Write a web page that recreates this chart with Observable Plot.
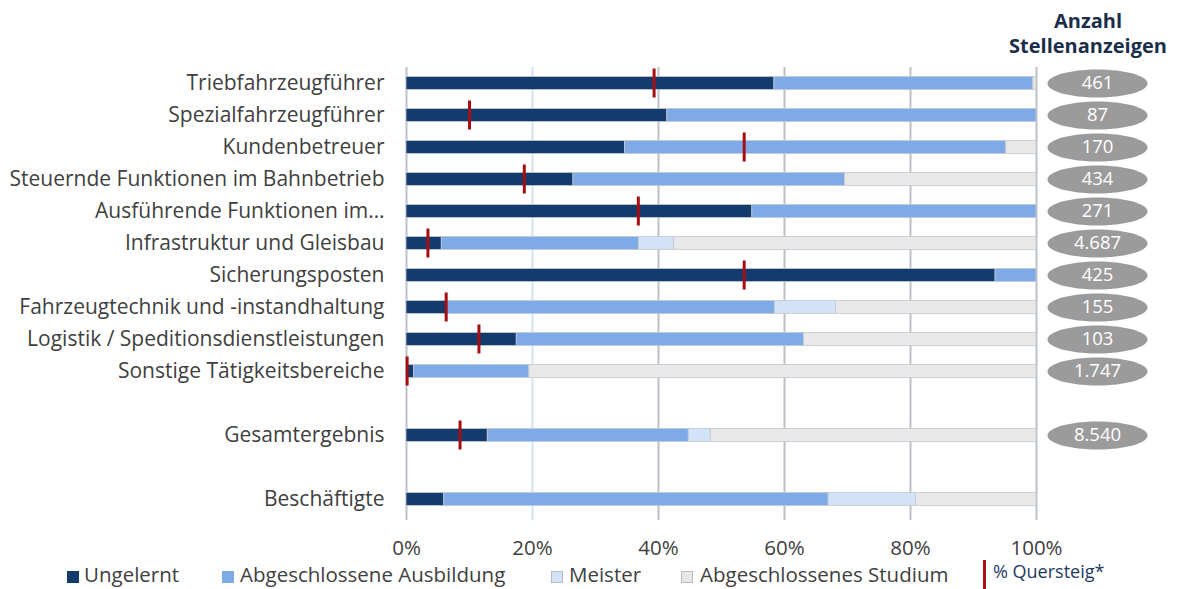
<!DOCTYPE html>
<html><head><meta charset="utf-8">
<script src="https://cdn.jsdelivr.net/npm/d3@7"></script>
<script src="https://cdn.jsdelivr.net/npm/@observablehq/plot@0.6"></script>
<style>
body{margin:0;background:#fff;font-family:"Open Sans",sans-serif;}
#wrap{position:relative;width:1178px;height:589px;overflow:hidden;}
#head{position:absolute;left:1003px;width:170px;top:8px;text-align:center;font-weight:bold;font-size:20px;line-height:25px;color:#1a2e4a;}
.lg{position:absolute;top:560px;font-size:20.5px;color:#404040;white-space:nowrap;line-height:28px;}
.sq{position:absolute;top:571px;width:12px;height:12px;box-sizing:border-box;}
#qline{position:absolute;left:983px;top:560px;width:3px;height:29px;background:#a50f12;}
#qtext{position:absolute;left:993px;top:559px;font-size:18px;color:#1f3a5f;white-space:nowrap;}
</style></head><body>
<div id="wrap"></div>
<script>
const categories = ["Triebfahrzeugführer","Spezialfahrzeugführer","Kundenbetreuer","Steuernde Funktionen im Bahnbetrieb","Ausführende Funktionen im…","Infrastruktur und Gleisbau","Sicherungsposten","Fahrzeugtechnik und -instandhaltung","Logistik / Speditionsdienstleistungen","Sonstige Tätigkeitsbereiche","_gap1","Gesamtergebnis","_gap2","Beschäftigte"];
const ungelernt  = [58.4, 41.4, 34.7, 26.5, 54.9,  5.6, 93.5,  6.3, 17.5,  1.2, null, 12.9, null,  6.0];
const ausbildung = [41.1, 58.6, 60.5, 43.1, 45.1, 31.3,  6.5, 52.2, 45.6, 18.3, null, 31.9, null, 61.0];
const meister    = [ 0.0,  0.0,  0.0,  0.0,  0.0,  5.6,  0.0,  9.7,  0.0,  0.0, null,  3.5, null, 13.9];
const studium    = [ 0.5,  0.0,  4.8, 30.4,  0.0, 57.5,  0.0, 31.8, 36.9, 80.5, null, 51.7, null, 19.1];
const quersteig  = [39.3, 10.0, 53.6, 18.7, 36.8,  3.4, 53.6,  6.3, 11.5,  0.1, null,  8.5, null, null];
const anzahl     = ["461","87","170","434","271","4.687","425","155","103","1.747", null, "8.540", null, null];
const levels = ["Ungelernt","Abgeschlossene Ausbildung","Meister","Abgeschlossenes Studium"];
const levelColors = ["#143b6e","#7eabe8","#d3e3f7","#e8e8e8"];
const xTicks = [0, 0.2, 0.4, 0.6, 0.8, 1];

const series = [ungelernt, ausbildung, meister, studium];
const barData = [];
categories.forEach((c, i) => series.forEach((s, j) => {
  if (s[i] != null && s[i] > 0) barData.push({cat: c, level: levels[j], value: s[i] / 100});
}));
const qData = categories.map((c, i) => ({cat: c, q: quersteig[i] == null ? null : quersteig[i] / 100})).filter(d => d.q != null);
const nData = categories.map((c, i) => ({cat: c, n: anzahl[i]})).filter(d => d.n != null);

const ellipse = {draw(ctx) {
  const rx = 50, ry = 14, k = 0.5523;
  ctx.moveTo(rx, 0);
  ctx.bezierCurveTo(rx, ry * k, rx * k, ry, 0, ry);
  ctx.bezierCurveTo(-rx * k, ry, -rx, ry * k, -rx, 0);
  ctx.bezierCurveTo(-rx, -ry * k, -rx * k, -ry, 0, -ry);
  ctx.bezierCurveTo(rx * k, -ry, rx, -ry * k, rx, 0);
  ctx.closePath();
}};

const plot = Plot.plot({
  width: 1178, height: 560,
  marginLeft: 406, marginRight: 142, marginTop: 67, marginBottom: 45,
  style: {fontFamily: '"Open Sans", sans-serif', background: "#fff"},
  x: {domain: [0, 1]},
  y: {domain: categories, padding: 0},
  color: {domain: levels, range: levelColors},
  marks: [
    Plot.ruleX(xTicks.filter(t => t !== 0.2), {stroke: "#bcc1c8", strokeWidth: 2, insetBottom: -5}),
    Plot.ruleX(xTicks.filter(t => t === 0.2), {stroke: "#d3e2f2", strokeWidth: 2, insetBottom: -5}),
    Plot.barX(barData, Plot.stackX({x: "value", y: "cat", fill: "level", order: levels, insetTop: 9.5, insetBottom: 9.5, stroke: "#c3c7cd", strokeWidth: 0.8})),
    Plot.tickX(qData, {x: "q", y: "cat", stroke: "#a50f12", strokeWidth: 3, insetTop: 1.5, insetBottom: 1.5}),
    Plot.dot(nData, {y: "cat", frameAnchor: "right", dx: 61, symbol: ellipse, fill: "#9b9b9b", stroke: "none"}),
    Plot.text(nData, {y: "cat", frameAnchor: "right", dx: 61, textAnchor: "middle", text: "n", fill: "white", fontSize: 18.5}),
    Plot.axisX({ticks: xTicks, tickFormat: d => Math.round(d * 100) + "%", tickSize: 0, tickPadding: 25, fontSize: 20.5, color: "#404040", label: null}),
    Plot.axisY({tickSize: 0, tickPadding: 22, fontSize: 21, color: "#404040", label: null, tickFormat: d => d.startsWith("_") ? "" : d})
  ]
});
const wrap = document.getElementById("wrap");
wrap.appendChild(plot);

const head = document.createElement("div");
head.id = "head";
head.innerHTML = "Anzahl<br>Stellenanzeigen";
wrap.appendChild(head);

const lgPos = [[67, 84], [222, 240], [551, 569], [681, 700]];
levels.forEach((l, i) => {
  const sq = document.createElement("div");
  sq.className = "sq";
  sq.style.left = lgPos[i][0] + "px";
  sq.style.background = levelColors[i];
  if (i >= 2) sq.style.border = "1px solid #b9bdc3";
  wrap.appendChild(sq);
  const t = document.createElement("div");
  t.className = "lg";
  t.style.left = lgPos[i][1] + "px";
  t.textContent = l;
  wrap.appendChild(t);
});
const ql = document.createElement("div"); ql.id = "qline"; wrap.appendChild(ql);
const qt = document.createElement("div"); qt.id = "qtext"; qt.textContent = "% Quersteig*"; wrap.appendChild(qt);
</script>
</body></html>
